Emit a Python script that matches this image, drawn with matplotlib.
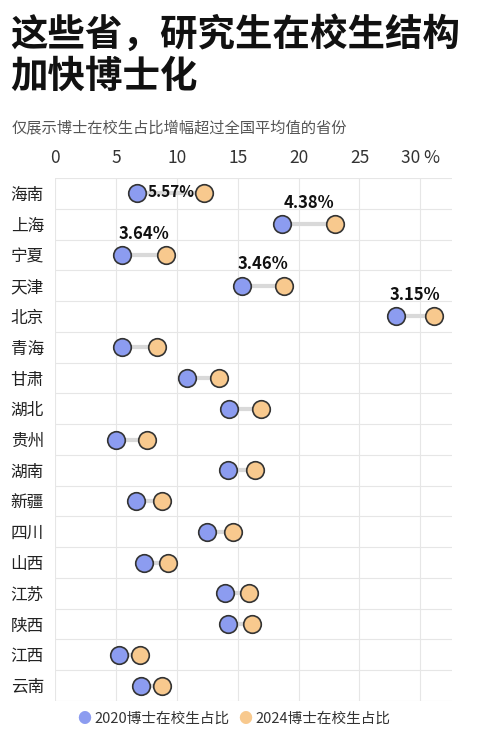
import numpy as np
import matplotlib as mpl
mpl.use('Agg')
import matplotlib.pyplot as plt

plt.rcParams['font.family'] = ['Noto Sans CJK SC', 'DejaVu Sans']

provinces = ['海南', '上海', '宁夏', '天津', '北京', '青海', '甘肃', '湖北', '贵州',
             '湖南', '新疆', '四川', '山西', '江苏', '陕西', '江西', '云南']
v2020 = [6.7, 18.65, 5.5, 15.37, 28.0, 5.5, 10.85, 14.3, 5.0,
         14.2, 6.65, 12.5, 7.3, 14.0, 14.2, 5.25, 7.1]
v2024 = [12.27, 23.03, 9.14, 18.83, 31.15, 8.4, 13.5, 16.9, 7.55,
         16.4, 8.8, 14.6, 9.3, 15.9, 16.2, 7.0, 8.8]
labels = {0: '5.57%', 1: '4.38%', 2: '3.64%', 3: '3.46%', 4: '3.15%'}
ticks = [0, 5, 10, 15, 20, 25, 30]
tick_labels = ['0', '5', '10', '15', '20', '25', '30 %']

W, H = 480, 738
fig = plt.figure(figsize=(W / 100, H / 100), dpi=100)
ax = fig.add_axes([55 / W, 1 - 701 / H, 397 / W, 523 / H])

n = len(provinces)
y = np.arange(n)
for i in range(n):
    ax.plot([v2020[i], v2024[i]], [i, i], color='#d9d9d9', lw=3, zorder=2, solid_capstyle='butt')
ax.scatter(v2020, y, s=160, color='#8c9cf0', edgecolor='#333333', lw=1.2, zorder=3)
ax.scatter(v2024, y, s=160, color='#f8c98e', edgecolor='#333333', lw=1.2, zorder=3)
for i, t in labels.items():
    if i == 0:
        ax.text(v2024[i] - 0.85, i - 0.05, t, ha='right', va='center', fontsize=11,
                fontweight='bold', color='#111111', zorder=4)
    else:
        ax.text((v2020[i] + v2024[i]) / 2, i - 0.4, t, ha='center', va='bottom', fontsize=12,
                fontweight='bold', color='#111111', zorder=4)

ax.set_xlim(0, 32.6)
ax.set_ylim(n - 0.5, -0.5)
ax.set_xticks(ticks)
ax.set_xticklabels(tick_labels, fontsize=12.5, color='#333333')
ax.xaxis.tick_top()
ax.set_yticks(y)
ax.set_yticklabels(provinces, fontsize=12, color='#222222')
ax.set_yticks(np.arange(-0.5, n, 1), minor=True)
ax.tick_params(which='both', length=0, pad=8)
ax.grid(axis='x', which='major', color='#e6e6e6', lw=0.8, zorder=0)
ax.grid(axis='y', which='minor', color='#e6e6e6', lw=0.8, zorder=0)
ax.grid(axis='y', which='major', visible=False)
for s in ax.spines.values():
    s.set_visible(False)

fig.text(10 / W, 1 - 34 / H, '这些省，研究生在校生结构', fontsize=27, fontweight='bold', va='center', color='#111111')
fig.text(10 / W, 1 - 76 / H, '加快博士化', fontsize=27, fontweight='bold', va='center', color='#111111')
fig.text(12 / W, 1 - 128 / H, '仅展示博士在校生占比增幅超过全国平均值的省份', fontsize=11, va='center', color='#555555')

fig.text(91 / W, 1 - 719 / H, '●', fontsize=10, color='#8c9cf0', ha='right', va='center')
fig.text(94 / W, 1 - 719 / H, '2020博士在校生占比', fontsize=10.5, color='#333333', va='center')
fig.text(252 / W, 1 - 719 / H, '●', fontsize=10, color='#f8c98e', ha='right', va='center')
fig.text(255 / W, 1 - 719 / H, '2024博士在校生占比', fontsize=10.5, color='#333333', va='center')

fig.savefig('out.png', dpi=100)
